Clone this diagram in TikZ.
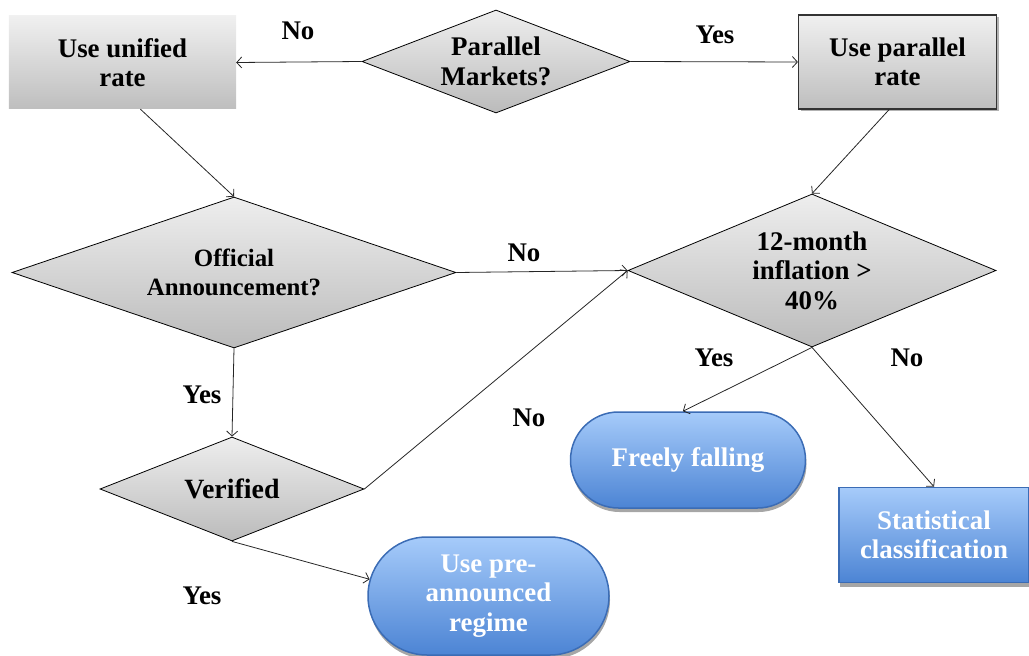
\documentclass[tikz,border=0pt]{standalone}
\usepackage{fontspec}
\setmainfont{Liberation Serif}
\usetikzlibrary{shapes.geometric,shapes.misc,arrows.meta,shadows}
\definecolor{gtop}{HTML}{F0F0F0}
\definecolor{gbot}{HTML}{BEBEBE}
\definecolor{dtop}{HTML}{EEEEEE}
\definecolor{dbot}{HTML}{BBBBBB}
\definecolor{btop}{HTML}{A6CBFA}
\definecolor{bbot}{HTML}{4C84D4}
\definecolor{bborder}{HTML}{3B6CB5}
\begin{document}
\begin{tikzpicture}[x=1bp,y=-1bp,
  txt/.style={font=\bfseries\fontsize{27}{29.5}\selectfont, align=center},
  graybox/.style={rectangle, top color=gtop, bottom color=gbot, inner sep=0, txt},
  dec/.style={diamond, draw=black, line width=0.8bp, top color=dtop, bottom color=dbot, inner sep=0},
  bluebox/.style={draw=bborder, line width=1.5bp, top color=btop, bottom color=bbot, text=white, inner sep=0, txt,
    drop shadow={shadow xshift=1bp, shadow yshift=-4bp, opacity=0.35, fill=black}},
  conn/.style={draw=black!85, line width=0.8bp, -{Straight Barb[length=5bp,width=11bp]}},
  lab/.style={txt}
]
\useasboundingbox (0,0) rectangle (1029,656);
\node[graybox, minimum width=227bp, minimum height=93bp] (unified) at (122.5,62.5) {Use unified\\rate};
\node[dec, minimum width=268bp, minimum height=103bp,
  label={[txt]center:Parallel\\Markets?}] (parallel) at (496,61.5) {};
\node[graybox, draw=black!80, line width=1.2bp, minimum width=198bp, minimum height=94bp,
  drop shadow={shadow xshift=2bp, shadow yshift=-2bp, opacity=0.3, fill=black}] (prate) at (897.5,62) {Use parallel\\rate};
\node[dec, minimum width=444bp, minimum height=151bp,
  label={[txt, font=\bfseries\fontsize{25}{29}\selectfont]center:Official\\Announcement?}] (official) at (234,272.5) {};
\node[dec, minimum width=368bp, minimum height=153bp,
  label={[txt]center:12-month\\inflation >\\40\%}] (infl) at (812,270.5) {};
\node[dec, minimum width=264bp, minimum height=104bp,
  label={[txt, font=\bfseries\fontsize{28}{30}\selectfont]center:Verified}] (verified) at (232,489) {};
\node[bluebox, rounded rectangle, minimum width=235bp, minimum height=96bp] (free) at (688,460) {Freely falling};
\node[bluebox, rounded rectangle, minimum width=241bp, minimum height=118bp] (pre) at (488.5,596) {Use pre-\\announced\\regime};
\node[bluebox, rectangle, minimum width=190bp, minimum height=95bp] (stat) at (934,535) {Statistical\\classification};

\draw[conn] (parallel.west) -- (unified.east);
\draw[conn] (parallel.east) -- (prate.west);
\draw[conn] (unified.-69) -- (official.north);
\draw[conn] (prate.-100) -- (infl.north);
\draw[conn] (official.east) -- (infl.west);
\draw[conn] (official.south) -- (verified.north);
\draw[conn] (verified.east) -- (infl.west);
\draw[conn] (verified.south) -- (pre.172);
\draw[conn] (infl.south) -- (free.96);
\draw[conn] (infl.south) -- (stat.north);

\node[lab] (l1) at (298,31) {No};
\node[lab] (l2) at (715,35) {Yes};
\node[lab] (l3) at (524,253) {No};
\node[lab] (l4) at (202,395) {Yes};
\node[lab] (l5) at (529,418) {No};
\node[lab] (l6) at (202,596) {Yes};
\node[lab] (l7) at (714,358) {Yes};
\node[lab] (l8) at (907,358) {No};
\end{tikzpicture}
\end{document}
